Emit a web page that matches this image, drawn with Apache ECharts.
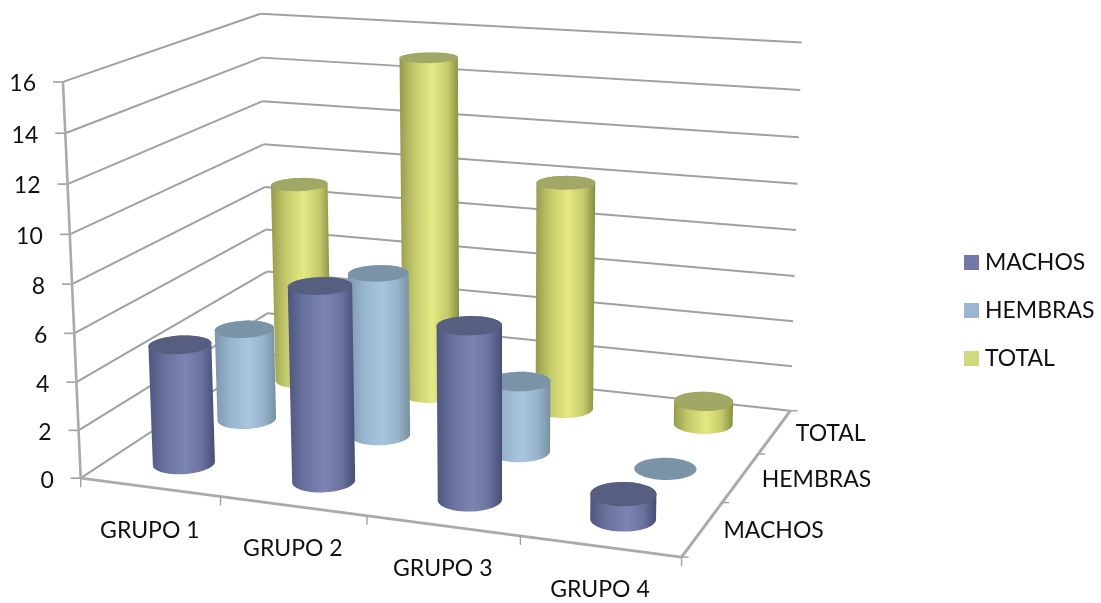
<!DOCTYPE html>
<html>
<head>
<meta charset="utf-8">
<style>html,body{margin:0;padding:0;background:#fff}#chart{width:1101px;height:603px}</style>
<script src="https://cdn.jsdelivr.net/npm/echarts@6/dist/echarts.min.js"></script>
</head>
<body>
<div id="chart"></div>
<script>
// Chart values
const grupos = ['GRUPO 1', 'GRUPO 2', 'GRUPO 3', 'GRUPO 4'];
const filas = ['MACHOS', 'HEMBRAS', 'TOTAL'];
const valorTicks = [0, 2, 4, 6, 8, 10, 12, 14, 16];
const machos = [5, 8, 7, 1];
const hembras = [4, 7, 3, 0];
const total = [9, 15, 10, 1];

// Camera calibration: box corner (u, w, v) in unit space -> screen pixel
const calibration = [
  [0,0,0,80,478],[0,0,.25,77,383],[0,0,.5,73,285],[0,0,.75,67,184],[0,0,1,65,81],
  [0,1,0,272,354],[0,1,.25,266,272],[0,1,.5,264,187],[0,1,.75,261,101],[0,1,1,260,13],
  [1,1,0,788,411],[1,1,.25,792,321],[1,1,.5,795,230],[1,1,.75,800,138],[1,1,1,802,43],
  [1,0,0,679,556],[.25,0,0,219,497],[.5,0,0,366,516],[.75,0,0,519,536],
  [1,1/3,0,726,502],[1,2/3,0,762,454]
];

// Least-squares fit of a projective camera matrix (11 unknowns, last entry = 1)
function fitCamera(pts) {
  const n = 11, A = Array.from({length: n}, () => new Array(n + 1).fill(0));
  const add = (row, rhs) => {
    for (let i = 0; i < n; i++) {
      for (let j = 0; j < n; j++) A[i][j] += row[i] * row[j];
      A[i][n] += row[i] * rhs;
    }
  };
  pts.forEach(([u, w, v, x, y]) => {
    add([u, w, v, 1, 0, 0, 0, 0, -x * u, -x * w, -x * v], x);
    add([0, 0, 0, 0, u, w, v, 1, -y * u, -y * w, -y * v], y);
  });
  for (let c = 0; c < n; c++) {
    let p = c;
    for (let r = c + 1; r < n; r++) if (Math.abs(A[r][c]) > Math.abs(A[p][c])) p = r;
    [A[c], A[p]] = [A[p], A[c]];
    for (let r = 0; r < n; r++) {
      if (r === c) continue;
      const f = A[r][c] / A[c][c];
      for (let k = c; k <= n; k++) A[r][k] -= f * A[c][k];
    }
  }
  return A.map((row, i) => row[n] / row[i]);
}
const cam = fitCamera(calibration);
function project(u, w, v) {
  const d = cam[8] * u + cam[9] * w + cam[10] * v + 1;
  return [
    (cam[0] * u + cam[1] * w + cam[2] * v + cam[3]) / d,
    (cam[4] * u + cam[5] * w + cam[6] * v + cam[7]) / d
  ];
}

function convexHull(points) {
  const p = points.slice().sort((a, b) => a[0] - b[0] || a[1] - b[1]);
  const cross = (o, a, b) => (a[0] - o[0]) * (b[1] - o[1]) - (a[1] - o[1]) * (b[0] - o[0]);
  const half = list => {
    const h = [];
    list.forEach(q => {
      while (h.length > 1 && cross(h[h.length - 2], h[h.length - 1], q) <= 0) h.pop();
      h.push(q);
    });
    h.pop();
    return h;
  };
  return half(p).concat(half(p.reverse()));
}

const RADIUS_U = 0.05, RADIUS_W = 0.074, SEGMENTS = 64;
const LINE = '#a0a0a0', AXIS = '#aaaaaa';
const FONT = 'Lato, "Open Sans", sans-serif', FONT_SIZE = 23;

const palette = {
  MACHOS:  {legend: '#7279a6', top: '#575f81', stops: ['#4c5680', '#6a739f', '#7c84b2', '#6a739f', '#454e75']},
  HEMBRAS: {legend: '#9bb6d0', top: '#7a93a6', stops: ['#7c96ad', '#98b5cd', '#a8c6de', '#97b3ca', '#76909f']},
  TOTAL:   {legend: '#d2d87c', top: '#a1a866', stops: ['#949c4c', '#c5cb6c', '#e4e983', '#c5cb6c', '#868e40']}
};

// Unit-space position of a value read through the hidden axes
function unitOf(api, params, cat, value) {
  const cs = params.coordSys, pt = api.coord([cat, value]);
  return [(pt[0] - cs.x) / cs.width, 1 - (pt[1] - cs.y) / cs.height];
}

function renderCylinder(fila) {
  const w0 = (fila + 0.5) / filas.length;
  const pal = palette[filas[fila]];
  return function (params, api) {
    const [u0, v] = unitOf(api, params, api.value(0), api.value(1));
    const ring = h => {
      const out = [];
      for (let i = 0; i < SEGMENTS; i++) {
        const t = i / SEGMENTS * Math.PI * 2;
        out.push(project(u0 + RADIUS_U * Math.cos(t), w0 + RADIUS_W * Math.sin(t), h));
      }
      return out;
    };
    const top = ring(v), children = [];
    if (v > 0) {
      children.push({
        type: 'polygon',
        shape: {points: convexHull(top.concat(ring(0)))},
        style: {
          fill: {
            type: 'linear', x: 0, y: 0, x2: 1, y2: 0,
            colorStops: pal.stops.map((color, i) => ({offset: [0, .25, .55, .8, 1][i], color}))
          }
        }
      });
    }
    children.push({type: 'polygon', shape: {points: top}, style: {fill: pal.top}});
    return {type: 'group', children};
  };
}

function renderFrame(params, api) {
  const children = [];
  const line = (a, b, stroke, width) => children.push({
    type: 'line',
    shape: {x1: a[0], y1: a[1], x2: b[0], y2: b[1]},
    style: {stroke, lineWidth: width}
  });
  const label = (text, x, y, align) => children.push({
    type: 'text',
    style: {text, x, y, align, verticalAlign: 'middle', fill: '#111', font: FONT_SIZE + 'px ' + FONT}
  });

  // Side and back walls, with the value axis
  valorTicks.forEach(t => {
    const [, v] = unitOf(api, params, 0, t);
    const a = project(0, 0, v);
    line(a, project(0, 1, v), LINE, 2);
    line(project(0, 1, v), project(1, 1, v), LINE, 2);
    line([a[0] - 10, a[1]], a, LINE, 1.6);
    label(String(t), a[0] - 27, a[1] + 2, 'right');
  });
  line(project(0, 0, 0), project(0, 0, 1), AXIS, 2.6);

  // Floor edges
  line(project(0, 0, 0), project(1, 0, 0), AXIS, 2.6);
  line(project(1, 0, 0), project(1, 1, 0), AXIS, 3);

  // Category axis along the front edge
  grupos.forEach((g, i) => {
    const p = project(i / grupos.length, 0, 0);
    line(p, [p[0], p[1] + 9], LINE, 1.4);
    const m = project((i + 0.5) / grupos.length, 0, 0);
    label(g, m[0], m[1] + 43, 'center');
  });
  const end = project(1, 0, 0);
  line(end, [end[0], end[1] + 9], LINE, 1.4);

  // Depth axis along the right edge
  filas.forEach((f, j) => {
    const p = project(1, j / filas.length, 0);
    line(p, [p[0] + 7, p[1]], LINE, 1.4);
    const m = project(1, (j + 0.5) / filas.length, 0);
    label(f, m[0] + 21, m[1] + 2, 'left');
  });
  const corner = project(1, 1, 0);
  line(corner, [corner[0] + 7, corner[1]], LINE, 1.4);
  return {type: 'group', children};
}

const seriesValues = [machos, hembras, total];
const chart = echarts.init(document.getElementById('chart'), null, {renderer: 'canvas'});
chart.setOption({
  animation: false,
  backgroundColor: '#ffffff',
  grid: {left: 0, top: 0, width: 1000, height: 500, containLabel: false},
  xAxis: {type: 'category', data: grupos, show: false},
  yAxis: {type: 'value', min: valorTicks[0], max: valorTicks[valorTicks.length - 1], show: false},
  legend: {
    orient: 'vertical', left: 959, top: 246, itemWidth: 15, itemHeight: 15, itemGap: 25,
    icon: 'rect', data: filas,
    textStyle: {fontFamily: FONT, fontSize: FONT_SIZE, color: '#111', padding: [0, 0, 0, 1], lineHeight: 22}
  },
  series: [
    {
      name: 'marco', type: 'custom', z: 1, silent: true, clip: false,
      renderItem: renderFrame, data: [[0, 0]], encode: {x: 0, y: 1}
    }
  ].concat(filas.map((name, j) => ({
    name, type: 'custom', z: 5 - j, clip: false,
    itemStyle: {color: palette[name].legend},
    renderItem: renderCylinder(j),
    encode: {x: 0, y: 1},
    data: seriesValues[j].map((val, i) => [i, val])
  })))
});
</script>
</body>
</html>
